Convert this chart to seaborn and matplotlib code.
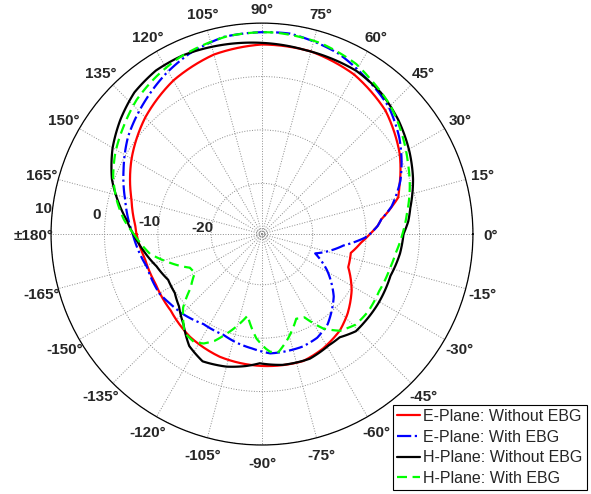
"""
Polar radiation pattern: E/H plane, with and without EBG.
"""

import numpy as np
import pandas as pd
import matplotlib
matplotlib.use("Agg")
import matplotlib.pyplot as plt
import seaborn as sns

# --- data (angle in degrees, gain in dB) ---------------------------------
e_no_ebg_deg = [-180, -168, -155, -140, -125, -109, -90, -72, -62, -51, -43,
                -32, -21, -12, -5, 0, 4, 7, 12, 15, 19, 30, 45, 60, 75, 90,
                105, 120, 135, 150, 165, 176, 180]
e_no_ebg_db = [-6.0, -7.1, -7.5, -7.2, -6.0, -5.2, -4.8, -4.5, -5.2, -6.3, -7.6,
               -9.7, -12.2, -12.5, -10.9, -9.3, -7.8, -7.0, -4.6, -3.1, -2.3, 0.3,
               3.2, 5.0, 5.9, 6.0, 5.3, 3.7, 1.4, -1.3, -4.2, -5.7, -6.0]

e_ebg_deg = [-180, -164, -150, -143, -134, -123, -111, -103, -95, -86, -77, -70,
             -62, -54, -41, -29, -20, -8, -2, 0, 4, 7, 12, 21, 28, 35, 45, 57,
             67, 82, 90, 101, 112, 121, 132, 144, 155, 166, 180]
e_ebg_db = [-5.3, -7.1, -7.3, -7.9, -8.5, -9.4, -9.3, -8.6, -8.0, -7.1, -7.1, -7.1,
            -7.5, -8.6, -11.7, -15.6, -18.9, -14.1, -10.2, -9.3, -7.8, -7.0, -4.7,
            -1.75, 0.1, 1.9, 4.1, 5.7, 7.2, 8.4, 8.3, 8.1, 6.9, 5.5, 3.55, 1.5,
            -0.9, -3.1, -5.3]

h_no_ebg_deg = [-180, -172, -163, -154, -146, -139, -131, -123, -115, -105, -97,
                -91, -81, -69, -59, -53, -46, -41, -31, -18, -8, 0, 5, 10, 20,
                29, 40, 50, 60, 77, 90, 105, 114, 123, 132, 141, 150, 160, 167,
                174, 180]
h_no_ebg_db = [-5.4, -7.1, -8.85, -9.95, -9.8, -8.9, -7.1, -4.5, -3.2, -3.8, -4.6,
               -5.3, -4.7, -4.5, -5.2, -5.3, -4.2, -4.2, -4.15, -4.2, -3.4, -3.0,
               -2.0, -1.3, 0.6, 2.1, 3.8, 5.1, 5.8, 5.9, 6.3, 6.8, 7.1, 7.0, 6.2,
               4.6, 2.8, 0.4, -1.8, -4.0, -5.4]

h_ebg_deg = [-180, -176, -170, -164, -155, -150, -143, -137, -128, -122, -118,
             -114, -110, -100, -93, -88, -86, -82, -76, -68, -63, -57, -51, -48,
             -44, -36, -26, -15, -8, 0, 8, 18, 26, 35, 45, 55, 61, 73, 86, 90,
             100, 115, 124, 133, 142, 151, 159, 167, 174, 180]
h_ebg_db = [-5.5, -6.6, -8.2, -10.9, -14.6, -15.0, -12.8, -9.3, -6.0, -5.6, -6.3,
            -7.6, -9.5, -14.0, -9.9, -8.0, -7.4, -7.2, -9.35, -12.4, -12.0, -8.4,
            -6.2, -5.75, -5.1, -4.9, -5.1, -4.7, -4.2, -3.2, -2.1, -0.4, 0.9, 2.6,
            4.5, 5.9, 6.9, 7.9, 8.3, 8.3, 8.1, 7.0, 6.0, 4.9, 3.35, 1.9, 0.35,
            -1.6, -3.5, -5.5]

theta_tick_deg = list(range(0, 360, 15))
theta_tick_labels = ["0°", "15°", "30°", "45°", "60°", "75°", "90°", "105°",
                     "120°", "135°", "150°", "165°", "±180°", "-165°", "-150°",
                     "-135°", "-120°", "-105°", "-90°", "-75°", "-60°", "-45°",
                     "-30°", "-15°"]
r_ticks = [-20, -10, 0, 10]

series = [
    ("E-Plane: Without EBG", e_no_ebg_deg, e_no_ebg_db, "#ff0000", "-"),
    ("E-Plane: With EBG", e_ebg_deg, e_ebg_db, "#0000ff", "-."),
    ("H-Plane: Without EBG", h_no_ebg_deg, h_no_ebg_db, "#000000", "-"),
    ("H-Plane: With EBG", h_ebg_deg, h_ebg_db, "#00ff00", (0, (4.5, 2.5))),
]

sns.set_style("white")
plt.rcParams["font.family"] = ["Liberation Sans", "DejaVu Sans"]

fig = plt.figure(figsize=(5.91, 4.94), dpi=100)
ax = fig.add_axes([0.0863, 0.0992, 0.714, 0.854], projection="polar")
ax.set_facecolor("white")

for name, deg, db, color, ls in series:
    df = pd.DataFrame({"theta": np.deg2rad(deg), "r": db})
    sns.lineplot(data=df, x="theta", y="r", sort=False, estimator=None,
                 color=color, linestyle=ls, linewidth=1.6, label=name, ax=ax,
                 legend=False)

# let matplotlib draw each segment as a polar arc instead of a chord
for line in ax.lines:
    line.get_path()._interpolation_steps = 24

rmin, rmax = -29.5, 10
ax.set_ylim(rmin, rmax)
ax.set_rgrids([-29.0, -28.5] + r_ticks, labels=[""] * 6)
ax.set_thetagrids(theta_tick_deg, [""] * len(theta_tick_deg))
ax.grid(True, color="#8c8c8c", linestyle=":", linewidth=0.7)
ax.tick_params(axis="x", direction="in", length=6, width=0.8, colors="black")
ax.spines["polar"].set_color("black")
ax.spines["polar"].set_linewidth(0.9)
ax.set_xlabel("")
ax.set_ylabel("")

# angle labels just outside the rim (about 17 px)
px_per_db = 211.5 / (rmax - rmin)
for deg, lab in zip(theta_tick_deg, theta_tick_labels):
    off = 15 if deg == 90 else 17.5
    ax.text(np.deg2rad(deg), rmax + off / px_per_db, lab, ha="center",
            va="center_baseline", fontsize=11, fontweight="bold",
            clip_on=False)

for rv in r_ticks:
    ax.text(np.deg2rad(173), rv + 1.7, str(rv), ha="center",
            va="center_baseline", fontsize=11, fontweight="bold",
            clip_on=False)

handles, labels = ax.get_legend_handles_labels()
leg = ax.legend(handles, labels, loc="lower right",
                bbox_to_anchor=(0.993, 0.008), bbox_transform=fig.transFigure,
                fontsize=11.5, frameon=True, fancybox=False, framealpha=1,
                edgecolor="black", handlelength=1.45, handletextpad=0.2,
                labelspacing=0.36, borderpad=0.25, borderaxespad=0)
leg.get_frame().set_linewidth(0.8)

fig.savefig("out.png", dpi=100)
plt.close(fig)
